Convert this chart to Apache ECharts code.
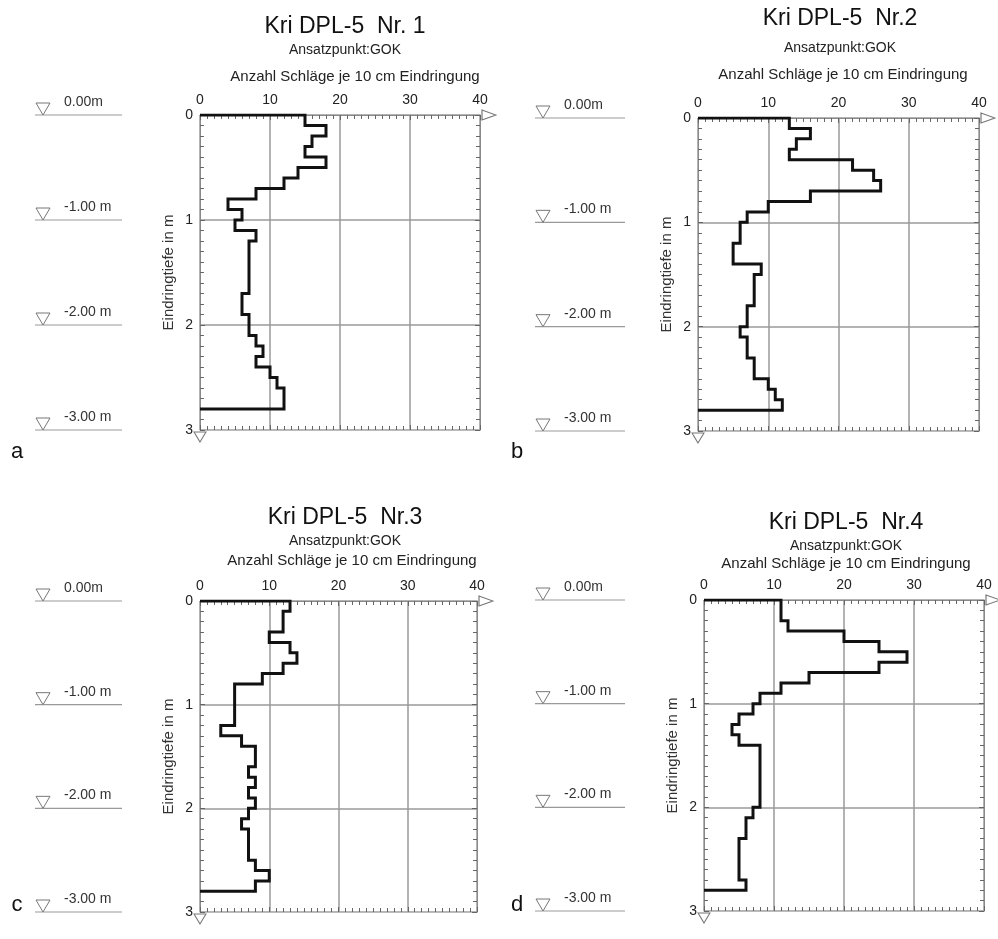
<!DOCTYPE html>
<html>
<head>
<meta charset="utf-8">
<title>Kri DPL-5 Rammsondierungen</title>
<script src="https://cdn.jsdelivr.net/npm/echarts@6/dist/echarts.min.js"></script>
<style>
  html, body { margin: 0; padding: 0; background: #fff; }
  #chart { width: 998px; height: 939px; }
</style>
</head>
<body>
<div id="chart"></div>
<script>
// Schlagzahlen N10 je 10 cm Eindringung, von 0.0 m bis 2.8 m
const depthStep = 0.1;
const blowsNr1 = [15, 18, 16, 15, 18, 14, 12, 8, 4, 6, 5, 8, 7, 7, 7, 7, 7, 6, 6, 7, 7, 8, 9, 8, 10, 11, 12, 12];
const blowsNr2 = [13, 16, 14, 13, 22, 25, 26, 16, 10, 7, 6, 6, 5, 5, 9, 8, 8, 8, 7, 7, 6, 7, 7, 8, 8, 10, 11, 12];
const blowsNr3 = [13, 12, 12, 10, 13, 14, 12, 9, 5, 5, 5, 5, 3, 6, 8, 8, 7, 8, 7, 8, 7, 6, 7, 7, 7, 8, 10, 8];
const blowsNr4 = [11, 11, 12, 20, 25, 29, 25, 15, 11, 8, 7, 5, 4, 5, 8, 8, 8, 8, 8, 8, 7, 6, 6, 5, 5, 5, 5, 6];

const panelTitles = ['Kri DPL-5  Nr. 1', 'Kri DPL-5  Nr.2', 'Kri DPL-5  Nr.3', 'Kri DPL-5  Nr.4'];
const panelLetters = ['a', 'b', 'c', 'd'];
const startPoint = 'Ansatzpunkt:GOK';
const xAxisTitle = 'Anzahl Schläge je 10 cm Eindringung';
const yAxisTitle = 'Eindringtiefe in m';

// Höhenmarken links neben den Diagrammen
const levelDepths = [0, 1, 2, 3];
const levelLabels = ['0.00m', '-1.00 m', '-2.00 m', '-3.00 m'];

const blowMax = 40;
const depthMax = 3;

const FONT = "'Liberation Sans', Arial, sans-serif";

// Layout je Teilbild
const panels = [
  { data: blowsNr1, plot: { left: 200, top: 115, width: 280, height: 315 }, marks: { left: 35, width: 87 },
    cx: 345, tY: 27, sY: 50, aY: 77, aX: 355, letter: [17, 452] },
  { data: blowsNr2, plot: { left: 698, top: 118, width: 281, height: 313 }, marks: { left: 535, width: 90 },
    cx: 840, tY: 19, sY: 48, aY: 75, aX: 843, letter: [517, 452] },
  { data: blowsNr3, plot: { left: 200, top: 601, width: 277, height: 311 }, marks: { left: 35, width: 87 },
    cx: 345, tY: 518, sY: 541, aY: 561, aX: 352, letter: [17, 905] },
  { data: blowsNr4, plot: { left: 704, top: 600, width: 280, height: 311 }, marks: { left: 535, width: 90 },
    cx: 846, tY: 523, sY: 546, aY: 564, aX: 846, letter: [517, 905] }
];

// Treppenlinie des Sondierprofils aus den Schlagzahlen
function profile(values) {
  const pts = [[0, 0]];
  values.forEach(function (v, i) {
    pts.push([v, Math.round(i * depthStep * 100) / 100]);
    pts.push([v, Math.round((i + 1) * depthStep * 100) / 100]);
  });
  pts.push([0, Math.round(values.length * depthStep * 100) / 100]);
  return pts;
}

const frameColor = '#8a8a8a';
const tickColor = '#666';
const gridColor = '#9a9a9a';

const grids = [], xAxes = [], yAxes = [], series = [], graphics = [];

panels.forEach(function (p, k) {
  const gPlot = grids.length;
  grids.push({ left: p.plot.left, top: p.plot.top, width: p.plot.width, height: p.plot.height });
  const gMark = grids.length;
  grids.push({ left: p.marks.left, top: p.plot.top, width: p.marks.width, height: p.plot.height });

  const xTop = xAxes.length;
  xAxes.push({
    gridIndex: gPlot, type: 'value', position: 'top', min: 0, max: blowMax, interval: 10,
    axisLine: { show: true, onZero: false, lineStyle: { color: frameColor, width: 1 } },
    axisTick: { show: true, inside: true, length: 5, lineStyle: { color: tickColor } },
    minorTick: { show: true, splitNumber: 10, length: 4, lineStyle: { color: tickColor } },
    axisLabel: { fontSize: 14, color: '#222', margin: 8, fontFamily: FONT },
    splitLine: { show: true, lineStyle: { color: gridColor, width: 1.5 } }
  });
  xAxes.push({
    gridIndex: gPlot, type: 'value', position: 'bottom', min: 0, max: blowMax, interval: 10,
    axisLine: { show: true, onZero: false, lineStyle: { color: '#bbb', width: 1 } },
    axisTick: { show: true, inside: true, length: 5, lineStyle: { color: tickColor } },
    minorTick: { show: true, splitNumber: 10, length: 4, lineStyle: { color: tickColor } },
    axisLabel: { show: false }, splitLine: { show: false }
  });
  const yLeft = yAxes.length;
  yAxes.push({
    gridIndex: gPlot, type: 'value', position: 'left', inverse: true, min: 0, max: depthMax, interval: 1,
    name: yAxisTitle, nameLocation: 'middle', nameGap: 24, nameRotate: 90,
    nameTextStyle: { fontSize: 15, color: '#333', fontFamily: FONT },
    axisLine: { show: true, onZero: false, lineStyle: { color: frameColor, width: 1 } },
    axisTick: { show: true, inside: true, length: 5, lineStyle: { color: tickColor } },
    minorTick: { show: true, splitNumber: 10, length: 4, lineStyle: { color: tickColor } },
    axisLabel: { fontSize: 14, color: '#222', margin: 7, fontFamily: FONT },
    splitLine: { show: true, lineStyle: { color: gridColor, width: 1.5 } }
  });
  yAxes.push({
    gridIndex: gPlot, type: 'value', position: 'right', inverse: true, min: 0, max: depthMax, interval: 1,
    axisLine: { show: true, onZero: false, lineStyle: { color: frameColor, width: 1 } },
    axisTick: { show: true, inside: true, length: 5, lineStyle: { color: tickColor } },
    minorTick: { show: true, splitNumber: 10, length: 4, lineStyle: { color: tickColor } },
    axisLabel: { show: false }, splitLine: { show: false }
  });

  series.push({
    type: 'line', xAxisIndex: xTop, yAxisIndex: yLeft,
    data: profile(p.data), showSymbol: false, symbol: 'none', animation: false, z: 5,
    lineStyle: { color: '#111', width: 3, join: 'miter' },
    markPoint: {
      animation: false, label: { show: false }, silent: true,
      itemStyle: { color: '#fff', borderColor: '#777', borderWidth: 1 },
      data: [
        { coord: [blowMax, 0], symbol: 'triangle', symbolSize: [10, 14], symbolRotate: -90, symbolOffset: [9, 0] },
        { coord: [0, depthMax], symbol: 'triangle', symbolSize: [12, 10], symbolRotate: 180, symbolOffset: [0, 7] }
      ]
    }
  });

  // Höhenmarken
  const xMark = xAxes.length;
  xAxes.push({ gridIndex: gMark, type: 'value', min: 0, max: 1, show: false });
  const yMark = yAxes.length;
  yAxes.push({ gridIndex: gMark, type: 'value', inverse: true, min: 0, max: depthMax, show: false });
  series.push({
    type: 'custom', xAxisIndex: xMark, yAxisIndex: yMark, animation: false, silent: true,
    data: levelDepths.map(function (d, i) { return [d, i]; }),
    renderItem: function (params, api) {
      const depth = api.value(0);
      const label = levelLabels[api.value(1)];
      const a = api.coord([0, depth]);
      const b = api.coord([1, depth]);
      return {
        type: 'group',
        children: [
          { type: 'line', shape: { x1: a[0], y1: a[1], x2: b[0], y2: b[1] },
            style: { stroke: '#999', lineWidth: 1.2 } },
          { type: 'polygon', shape: { points: [[a[0] + 1, a[1] - 12], [a[0] + 15, a[1] - 12], [a[0] + 8, a[1]]] },
            style: { fill: '#fff', stroke: '#777', lineWidth: 1 } },
          { type: 'text', style: { text: label, x: a[0] + 29, y: a[1] - 6, textVerticalAlign: 'bottom',
            textAlign: 'left', font: '14px ' + FONT, fill: '#333' } }
        ]
      };
    }
  });

  graphics.push(
    { type: 'text', style: { text: panelTitles[k], x: p.cx, y: p.tY, textAlign: 'center', textVerticalAlign: 'middle', font: '23px ' + FONT, fill: '#111' } },
    { type: 'text', style: { text: startPoint, x: p.cx, y: p.sY, textAlign: 'center', textVerticalAlign: 'middle', font: '14px ' + FONT, fill: '#222' } },
    { type: 'text', style: { text: xAxisTitle, x: p.aX, y: p.aY, textAlign: 'center', textVerticalAlign: 'middle', font: '15px ' + FONT, fill: '#222' } },
    { type: 'text', style: { text: panelLetters[k], x: p.letter[0], y: p.letter[1], textAlign: 'center', textVerticalAlign: 'middle', font: '22px ' + FONT, fill: '#111' } }
  );
});

const chart = echarts.init(document.getElementById('chart'), null, { renderer: 'canvas' });
chart.setOption({
  backgroundColor: '#fff',
  animation: false,
  grid: grids,
  xAxis: xAxes,
  yAxis: yAxes,
  series: series,
  graphic: graphics
});
</script>
</body>
</html>
